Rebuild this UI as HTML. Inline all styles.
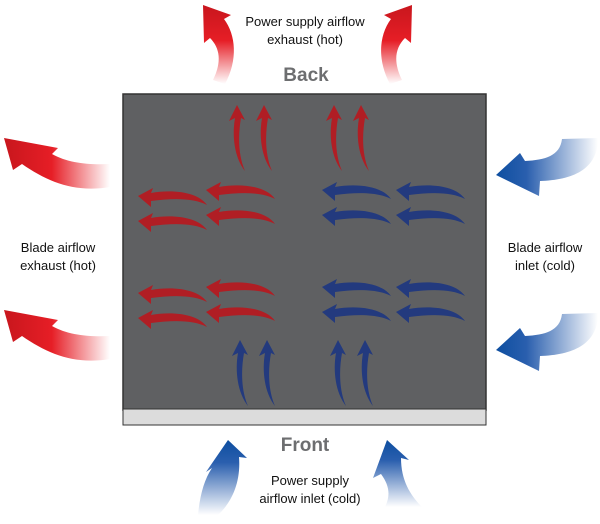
<!DOCTYPE html>
<html><head><style>body{margin:0;background:#fff}svg{display:block}</style></head><body>
<svg width="600" height="524" viewBox="0 0 600 524" xmlns="http://www.w3.org/2000/svg" font-family="Liberation Sans, sans-serif">
<defs>
<linearGradient id="rv" x1="0" y1="0" x2="0" y2="1"><stop offset="0" stop-color="#c8161d"/><stop offset="0.45" stop-color="#e61e26"/><stop offset="1" stop-color="#fff"/></linearGradient>
<linearGradient id="rh" x1="0" y1="0" x2="1" y2="0"><stop offset="0" stop-color="#c8161d"/><stop offset="0.45" stop-color="#e61e26"/><stop offset="1" stop-color="#fff"/></linearGradient>
<linearGradient id="bh" x1="0" y1="0" x2="1" y2="0"><stop offset="0" stop-color="#0d4ea0"/><stop offset="0.3" stop-color="#2a5fae"/><stop offset="1" stop-color="#fff"/></linearGradient>
<linearGradient id="bv" x1="0" y1="0" x2="0" y2="1"><stop offset="0" stop-color="#0d4ea0"/><stop offset="0.3" stop-color="#2a5fae"/><stop offset="1" stop-color="#fff"/></linearGradient>
<path id="h" d="M0,8 L15,0 L13,5 C35,1 60,4 69,17 C56,10 35,10 13,13 L13,19 Z"/>
<path id="v" d="M8,0 L16,15 L12,13 C9,30 9,50 16,66 C5,52 3,30 6,13 L0,16 Z"/>
<path id="side" d="M4,138 L58,148 L52,154 C68,163 88,165 110,164 L110,187 C75,193 48,182 22,164 L13,170 Z"/>
<path id="bside" d="M496,175 L520,153 L525,161 C545,160 560,156 562,139 L598,138 C598,170 572,180 540,181 L539,196 Z"/>
</defs>
<rect x="123" y="94" width="363" height="316" fill="#5f6062" stroke="#333" stroke-width="1.5"/>
<rect x="123" y="409" width="363" height="16" fill="#dcdcdc" stroke="#333" stroke-width="1"/>
<g fill="#b01e24">
<use href="#v" x="229" y="105"/><use href="#v" x="256" y="105"/>
<use href="#v" x="326" y="105"/><use href="#v" x="353" y="105"/>
<use href="#h" x="138" y="188"/><use href="#h" x="206" y="182"/>
<use href="#h" x="138" y="213"/><use href="#h" x="206" y="207"/>
<use href="#h" x="138" y="285"/><use href="#h" x="206" y="279"/>
<use href="#h" x="138" y="310"/><use href="#h" x="206" y="304"/>
</g>
<g fill="#233a7e">
<use href="#h" x="322" y="182"/><use href="#h" x="396" y="182"/>
<use href="#h" x="322" y="207"/><use href="#h" x="396" y="207"/>
<use href="#h" x="322" y="279"/><use href="#h" x="396" y="279"/>
<use href="#h" x="322" y="304"/><use href="#h" x="396" y="304"/>
<use href="#v" x="232" y="340"/><use href="#v" x="259" y="340"/>
<use href="#v" x="330" y="340"/><use href="#v" x="357" y="340"/>
</g>
<path fill="url(#rv)" d="M203,5 L231,15 L224,19 C236,35 238,60 225,84 L213,80 C222,62 220,48 210,38 L204,43 Z"/>
<path fill="url(#rv)" transform="translate(615,0) scale(-1,1)" d="M203,5 L231,15 L224,19 C236,35 238,60 225,84 L213,80 C222,62 220,48 210,38 L204,43 Z"/>
<use href="#side" fill="url(#rh)"/>
<use href="#side" fill="url(#rh)" transform="translate(0,172)"/>
<use href="#bside" fill="url(#bh)"/>
<use href="#bside" fill="url(#bh)" transform="translate(0,175)"/>
<path fill="url(#bv)" d="M228,440 L247,458 L239,457 C241,482 232,502 218,515 L198,515 C200,495 204,480 212,468 L206,472 Z"/>
<path fill="url(#bv)" d="M387,440 L409,460 L401,458 C401,480 410,495 422,507 L385,507 C391,495 389,485 381,474 L373,478 Z"/>
<g font-size="13" text-anchor="middle" fill="#111">
<text x="305" y="26">Power supply airflow</text><text x="305" y="44">exhaust (hot)</text>
<text x="58" y="252">Blade airflow</text><text x="58" y="270">exhaust (hot)</text>
<text x="545" y="252">Blade airflow</text><text x="545" y="270">inlet (cold)</text>
<text x="310" y="485">Power supply</text><text x="310" y="503">airflow inlet (cold)</text>
</g>
<g font-size="19" font-weight="bold" fill="#6d6e70" text-anchor="middle">
<text x="306" y="81">Back</text><text x="305" y="451">Front</text>
</g>
</svg>
</body></html>
